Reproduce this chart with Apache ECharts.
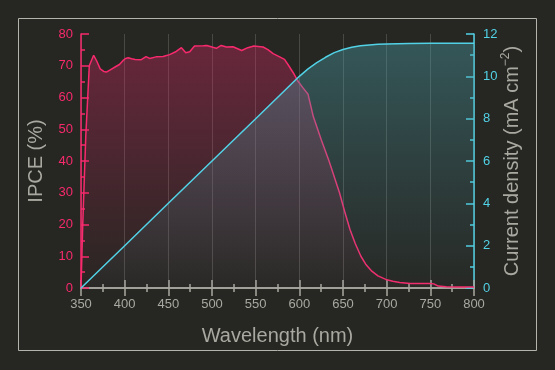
<!DOCTYPE html>
<html>
<head>
<meta charset="utf-8">
<script src="https://cdn.jsdelivr.net/npm/echarts@6/dist/echarts.min.js"></script>
<style>
html,body{margin:0;padding:0;background:#262622;}
#c{width:555px;height:370px;}
</style>
</head>
<body>
<div id="c"></div>
<script>
// IPCE (%) vs wavelength (nm)
var ipceWavelength = [350,352,355.5,359.5,361,364.5,368,372,376,379,384,389,394,398,401,404,408,412,419,424.5,428.5,436,444,451.5,459,465,470,474.5,480,490,494,501,505,510.5,516.5,524,534,541,548,553,558.5,564,570,577.5,583,587,593,598.5,604,610,616,625,634,646,652,658,664,670.5,676,683,690,699,707,715,727,740,750,754,759,768,780,800];
var ipceValues = [0,20,48,70,71,73.3,71.5,69,68.2,68,68.8,69.6,70.4,71.6,72.3,72.5,72.2,72,71.9,72.9,72.3,72.8,72.9,73.5,74.5,75.7,74.1,74.4,76.2,76.3,76.4,75.8,75.5,76.4,75.9,76,74.8,75.7,76.2,76.1,75.9,75.1,73.8,72.8,72,70.4,67.8,65.1,63.1,61,54,46.8,40,30,24,18.4,14,10,7.5,5.3,3.8,2.7,2.1,1.7,1.4,1.4,1.4,1.3,0.6,0.4,0.3,0.3];
// Integrated current density (mA cm-2)
var jWavelength = [350,400,450,500,550,600,610,620,630,640,650,660,670,680,690,700,725,750,800];
var jValues = [0,2,4,6,8,10,10.35,10.65,10.9,11.12,11.27,11.37,11.44,11.48,11.51,11.53,11.55,11.56,11.56];
var xTicks = {min:350, max:800, interval:50};
var ipceTicks = {min:0, max:80, interval:10};
var jTicks = {min:0, max:12, interval:2};

var PINK = '#f72a6e';
var CYAN = '#52d2e6';
var GRAY = '#a9a9a1';

function pairs(xs, ys){ return xs.map(function(x,i){ return [x, ys[i]]; }); }

var chart = echarts.init(document.getElementById('c'), null, {renderer:'canvas'});
var font = '"Liberation Sans", Arial, sans-serif';
chart.setOption({
  backgroundColor: '#262622',
  animation: false,
  textStyle: {fontFamily: font},
  graphic: [{
    type: 'rect', silent: true, z: -10,
    shape: {x: 18.5, y: 18.5, width: 518, height: 332},
    style: {fill: 'none', stroke: '#b4b4ac', lineWidth: 1}
  }],
  grid: {left: 81, right: 81, top: 34, bottom: 82},
  xAxis: [{
    type: 'value', position: 'bottom',
    min: xTicks.min, max: xTicks.max, interval: xTicks.interval,
    name: 'Wavelength (nm)', nameLocation: 'middle', nameGap: 38,
    nameTextStyle: {color: GRAY, fontSize: 20, fontFamily: font},
    axisLine: {lineStyle: {color: GRAY, width: 1.5}},
    axisTick: {inside: true, length: 8, lineStyle: {color: GRAY, width: 1.5}},
    minorTick: {show: true, splitNumber: 2, length: 4, lineStyle: {color: GRAY, width: 1.5}},
    axisLabel: {color: GRAY, fontSize: 13, margin: 10, fontFamily: font},
    splitLine: {show: true, lineStyle: {color: 'rgba(200,200,190,0.22)', width: 1}}
  },{
    type: 'value', position: 'top',
    min: xTicks.min, max: xTicks.max, interval: xTicks.interval,
    axisLine: {lineStyle: {color: GRAY, width: 1.5}},
    axisTick: {inside: true, length: 8, lineStyle: {color: GRAY, width: 1.5}},
    minorTick: {show: true, splitNumber: 2, length: 4, lineStyle: {color: GRAY, width: 1.5}},
    axisLabel: {show: false},
    splitLine: {show: false}
  }],
  yAxis: [{
    type: 'value', position: 'left',
    min: ipceTicks.min, max: ipceTicks.max, interval: ipceTicks.interval,
    name: 'IPCE (%)', nameLocation: 'middle', nameGap: 35,
    nameTextStyle: {color: GRAY, fontSize: 20, fontFamily: font},
    axisLine: {show: true, lineStyle: {color: PINK, width: 1.5}},
    axisTick: {show: true, inside: true, length: 8, lineStyle: {color: PINK, width: 1.5}},
    minorTick: {show: true, splitNumber: 2, length: 4, lineStyle: {color: PINK, width: 1.5}},
    axisLabel: {color: PINK, fontSize: 13, margin: 8, fontFamily: font},
    splitLine: {show: false}
  },{
    type: 'value', position: 'right',
    min: jTicks.min, max: jTicks.max, interval: jTicks.interval,
    name: '{a|Current density (mA cm}{b|−2}{a|)}', nameLocation: 'middle', nameGap: 26,
    nameMoveOverlap: false,
    nameTextStyle: {
      color: GRAY, fontFamily: font,
      rich: {
        a: {color: GRAY, fontSize: 20, fontFamily: font, lineHeight: 24},
        b: {color: GRAY, fontSize: 12, fontFamily: font, lineHeight: 24, verticalAlign: 'top', padding: [0,0,10,0]}
      }
    },
    axisLine: {show: true, lineStyle: {color: CYAN, width: 1.5}},
    axisTick: {show: true, inside: true, length: 8, lineStyle: {color: CYAN, width: 1.5}},
    minorTick: {show: true, splitNumber: 2, length: 4, lineStyle: {color: CYAN, width: 1.5}},
    axisLabel: {color: CYAN, fontSize: 13, margin: 9, fontFamily: font},
    splitLine: {show: false}
  }],
  series: [{
    name: 'IPCE', type: 'line', xAxisIndex: 0, yAxisIndex: 0,
    data: pairs(ipceWavelength, ipceValues),
    showSymbol: false, symbol: 'none',
    lineStyle: {color: PINK, width: 1.5},
    areaStyle: {
      color: new echarts.graphic.LinearGradient(0, 0, 0, 1, [
        {offset: 0, color: 'rgba(210,40,100,0.55)'},
        {offset: 1, color: 'rgba(210,40,100,0.02)'}
      ])
    },
    z: 2
  },{
    name: 'J', type: 'line', xAxisIndex: 0, yAxisIndex: 1,
    data: pairs(jWavelength, jValues),
    showSymbol: false, symbol: 'none',
    lineStyle: {color: CYAN, width: 1.5},
    areaStyle: {
      color: new echarts.graphic.LinearGradient(0, 0, 0, 1, [
        {offset: 0, color: 'rgba(74,158,168,0.58)'},
        {offset: 1, color: 'rgba(74,158,168,0.03)'}
      ])
    },
    z: 3
  }]
});
</script>
</body>
</html>
